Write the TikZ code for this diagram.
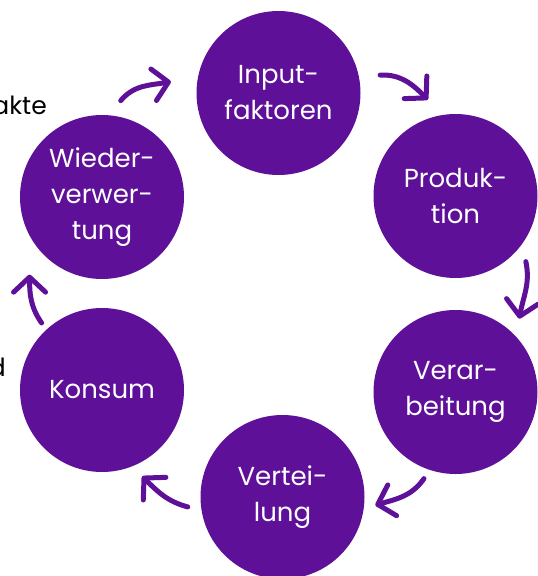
\documentclass[tikz,border=0pt]{standalone}
\usepackage{fontspec}
\setmainfont{Poppins}
\usepackage{tikz}
\usetikzlibrary{arrows.meta}
\usepackage{xcolor}
\definecolor{ColWhite}{RGB}{255,255,255}
\definecolor{ColA}{RGB}{94,17,152}
\tikzstyle{NodeCycle}=[circle,fill=ColA,text=ColWhite,inner sep=0pt,minimum size=164pt,
align=center,font=\fontsize{26}{36}\selectfont]
\tikzstyle{EdgeCycle}=[ColA,line width=5pt,line cap=round,
-{Straight Barb[length=15pt,width=32pt,round]}]
\tikzstyle{CutText}=[inner sep=0pt,anchor=base east,font=\fontsize{25}{30}\selectfont]
\begin{document}
\begin{tikzpicture}[x=1pt,y=1pt]
        \useasboundingbox (0,0) rectangle (538,-576);
        \node[CutText](t1)at(47,-114){akte};
        \node[CutText](t2)at(6,-376){d};
        \node[NodeCycle](input)at(278.5,-93){Input-\\faktoren};
        \node[NodeCycle](prod)at(455.5,-196){Produk-\\tion};
        \node[NodeCycle](verarb)at(455.5,-392){Verar-\\beitung};
        \node[NodeCycle](verteil)at(282.5,-497){Vertei-\\lung};
        \node[NodeCycle](konsum)at(102,-390){Konsum};
        \node[NodeCycle](wieder)at(102,-197){Wieder-\\verwer-\\tung};
        \draw[EdgeCycle]([shift={(79:16)}]wieder.79)to[out=50,in=190]([shift={(174:26)}]input.174);
        \draw[EdgeCycle]([shift={(10:21)}]input.10)to[out=3,in=135]([shift={(106:18)}]prod.106);
        \draw[EdgeCycle]([shift={(-43:14)}]prod.-43)to[out=-78,in=80]([shift={(49:15)}]verarb.49);
        \draw[EdgeCycle]([shift={(-110:10)}]verarb.-110)to[out=-125,in=16]([shift={(-5:11)}]verteil.-5);
        \draw[EdgeCycle]([shift={(186:13)}]verteil.186)to[out=165,in=-45]([shift={(-65:13)}]konsum.-65);
        \draw[EdgeCycle]([shift={(132:8)}]konsum.132)to[out=125,in=-90]([shift={(-133:24)}]wieder.-133);
    \end{tikzpicture}
\end{document}
